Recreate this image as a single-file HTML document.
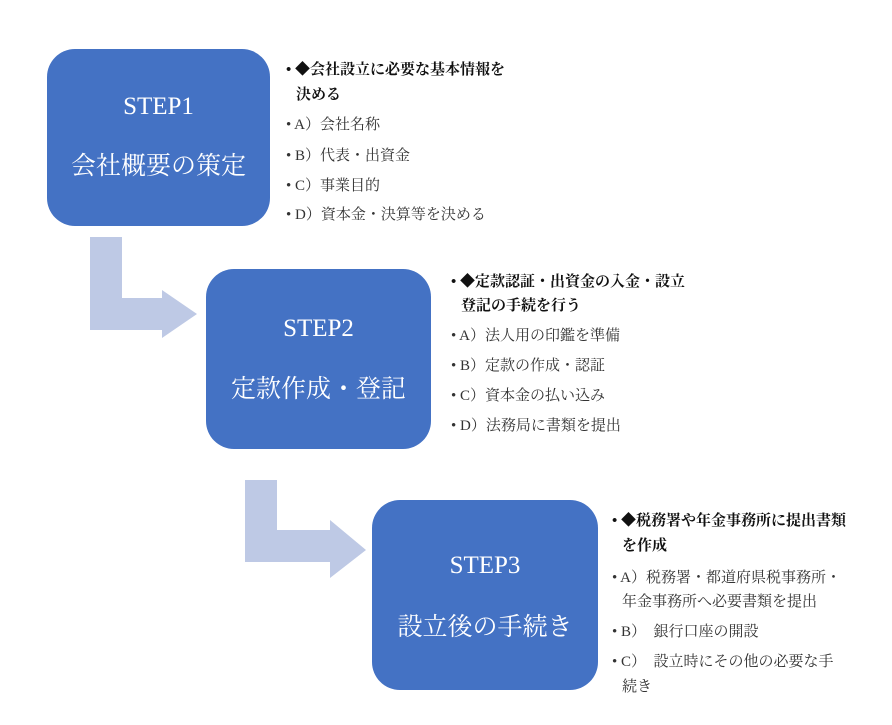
<!DOCTYPE html>
<html><head><meta charset="utf-8"><style>
body{margin:0;width:892px;height:725px;background:#fff;position:relative;overflow:hidden;font-family:"Liberation Serif","Noto Serif CJK JP",serif;}
.box{position:absolute;background:#4472C4;border-radius:28px;color:#fff;text-align:center;font-size:25px;}
.box div{position:absolute;left:0;right:0;}
.t{position:absolute;font-size:15px;color:#333;white-space:nowrap;}
.t p{margin:0;position:absolute;left:0;}
.b{font-weight:bold;color:#111}
</style></head><body>
<svg width="892" height="725" style="position:absolute;left:0;top:0">
<polygon fill="#BEC9E5" points="90,237 122,237 122,298 162,298 162,290 197,314 162,338 162,330 90,330"/>
<polygon fill="#BEC9E5" points="245,480 277,480 277,530 330,530 330,520 366,550 330,578 330,562 245,562"/>
</svg>
<div class="box" style="left:47px;top:49px;width:223px;height:177px;"><div style="top:44px">STEP1</div><div style="top:97px">会社概要の策定</div></div>
<div class="box" style="left:206px;top:269px;width:225px;height:180px;"><div style="top:46px">STEP2</div><div style="top:100px">定款作成・登記</div></div>
<div class="box" style="left:372px;top:500px;width:226px;height:190px;"><div style="top:52px">STEP3</div><div style="top:107px">設立後の手続き</div></div>
<div class="t" style="left:286px;top:0">
<p class="b" style="top:58px">• ◆会社設立に必要な基本情報を</p>
<p class="b" style="top:83px;left:10px">決める</p>
<p style="top:113px">• A）会社名称</p>
<p style="top:144px">• B）代表・出資金</p>
<p style="top:174px">• C）事業目的</p>
<p style="top:203px">• D）資本金・決算等を決める</p>
</div>
<div class="t" style="left:451px;top:0">
<p class="b" style="top:270px">• ◆定款認証・出資金の入金・設立</p>
<p class="b" style="top:294px;left:10px">登記の手続を行う</p>
<p style="top:324px">• A）法人用の印鑑を準備</p>
<p style="top:354px">• B）定款の作成・認証</p>
<p style="top:384px">• C）資本金の払い込み</p>
<p style="top:414px">• D）法務局に書類を提出</p>
</div>
<div class="t" style="left:612px;top:0">
<p class="b" style="top:509px">• ◆税務署や年金事務所に提出書類</p>
<p class="b" style="top:534px;left:10px">を作成</p>
<p style="top:566px">• A）税務署・都道府県税事務所・</p>
<p style="top:590px;left:10px">年金事務所へ必要書類を提出</p>
<p style="top:620px">• B）　銀行口座の開設</p>
<p style="top:650px">• C）　設立時にその他の必要な手</p>
<p style="top:675px;left:10px">続き</p>
</div>
</body></html>
